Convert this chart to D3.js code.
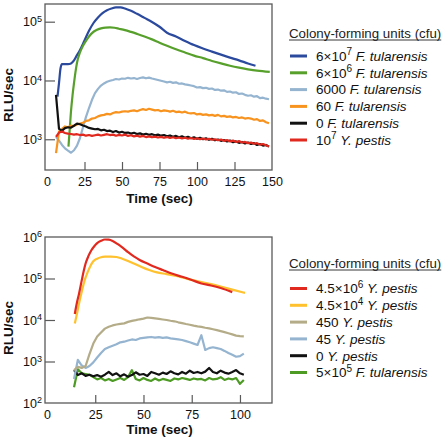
<!DOCTYPE html>
<html><head><meta charset="utf-8">
<script src="https://cdn.jsdelivr.net/npm/d3@7/dist/d3.min.js"></script>
<style>body{margin:0;background:#fff;}svg{display:block;font-family:"Liberation Sans",Arial,Helvetica,sans-serif;}</style>
</head><body>
<script>
// ---------- TOP PANEL DATA ----------
const topXTicks = [0, 25, 50, 75, 100, 125, 150];
const topYTicks = [1e3, 1e4, 1e5];
const topLegendTitle = "Colony-forming units (cfu)";
const topLabels = ["6×10^7 F. tularensis", "6×10^6 F. tularensis", "6000 F. tularensis", "60 F. tularensis", "0 F. tularensis", "10^7 Y. pestis"];
const topColors = ["#2b4a9e", "#58a02c", "#95b4d0", "#f7931e", "#111111", "#e1291f"];

const tBlue = [7, 8, 9, 10, 12, 14, 16, 18, 20, 22, 25, 28, 31, 34, 37, 40, 43, 46, 49, 52, 56, 60, 65, 70, 75, 80, 86, 92, 98, 104, 110, 116, 122, 128, 134, 139];
const vBlue = [5300, 9000, 16000, 19000, 19000, 19000, 19500, 22000, 27000, 33000, 48000, 70000, 95000, 118000, 140000, 157000, 168000, 175000, 175000, 168000, 153000, 136000, 116000, 99000, 82000, 65000, 56000, 47000, 40000, 35000, 31000, 27500, 24500, 22000, 19500, 17800];
const tGreen = [14.3, 15, 16, 17, 18, 19, 20, 22, 24, 26, 28, 30, 33, 36, 39, 42, 45, 48, 52, 56, 60, 65, 70, 75, 80, 86, 92, 98, 104, 110, 116, 122, 128, 134, 140, 148.5];
const vGreen = [750, 1300, 3000, 5500, 9000, 14000, 20000, 30000, 39000, 47000, 56000, 64000, 72000, 77000, 79500, 80000, 79000, 76000, 72000, 67000, 62000, 56000, 50000, 44000, 39000, 34000, 30000, 26500, 24000, 21500, 19500, 17800, 16500, 15500, 14700, 14000];
const tTop = [6, 8, 10, 12, 14, 16, 18, 20, 22, 24, 26, 28, 30, 32, 34, 36, 38, 40, 42, 44, 46, 48, 50, 52, 54, 56, 58, 60, 62, 64, 66, 68, 70, 72, 74, 76, 78, 80, 82, 84, 86, 88, 90, 92, 94, 96, 98, 100, 102, 104, 106, 108, 110, 112, 114, 116, 118, 120, 122, 124, 126, 128, 130, 132, 134, 136, 138, 140, 142, 144, 146, 148];
const vLb6000 = [1100, 950, 800, 700, 640, 590, 650, 780, 1050, 1600, 2400, 3400, 4700, 6100, 7200, 8200, 8900, 9500, 9900, 10200, 10600, 10400, 10800, 10700, 11100, 10800, 11000, 10600, 11000, 11300, 10900, 11200, 10800, 10500, 10200, 9900, 9600, 9300, 9500, 9100, 9300, 8800, 8900, 8600, 8400, 8200, 8000, 7600, 7700, 7400, 7500, 7200, 7300, 6900, 7000, 6700, 6800, 6400, 6500, 6200, 6300, 5900, 6000, 5700, 5500, 5600, 5300, 5400, 5000, 5100, 4900, 4800];
const vOr60 = [580, 1350, 1500, 1650, 1600, 1700, 1680, 1780, 1850, 1900, 2050, 2100, 2250, 2300, 2450, 2550, 2600, 2700, 2650, 2800, 2900, 2850, 2950, 3000, 2950, 3050, 3100, 3000, 3150, 3250, 3150, 3300, 3200, 3100, 3150, 3000, 3100, 3050, 2950, 3050, 2900, 2950, 2850, 2950, 2800, 2750, 2800, 2650, 2700, 2600, 2650, 2550, 2600, 2500, 2600, 2450, 2500, 2400, 2450, 2350, 2400, 2300, 2350, 2250, 2300, 2250, 2150, 2200, 2050, 2100, 1950, 1870];
const vBlk0 = [5700, 1500, 1400, 1550, 1600, 1580, 1700, 1850, 1800, 1720, 1650, 1560, 1520, 1480, 1500, 1420, 1450, 1380, 1400, 1330, 1380, 1300, 1340, 1280, 1300, 1250, 1290, 1230, 1260, 1200, 1240, 1190, 1220, 1170, 1200, 1150, 1180, 1120, 1160, 1100, 1140, 1080, 1120, 1060, 1100, 1040, 1080, 1020, 1060, 1000, 1040, 980, 1020, 960, 990, 940, 970, 920, 950, 890, 920, 870, 900, 850, 880, 830, 860, 800, 830, 780, 800, 750];
const vRedYp = [1100, 1300, 1350, 1280, 1250, 1230, 1200, 1220, 1180, 1200, 1150, 1180, 1140, 1170, 1200, 1160, 1190, 1220, 1180, 1200, 1150, 1190, 1160, 1200, 1140, 1170, 1120, 1150, 1110, 1140, 1090, 1120, 1080, 1110, 1070, 1100, 1060, 1090, 1050, 1080, 1040, 1070, 1030, 1060, 1020, 1050, 1010, 1040, 1000, 1030, 990, 1020, 980, 1000, 960, 990, 940, 970, 920, 950, 900, 930, 880, 900, 860, 880, 840, 860, 810, 830, 790, 750];

// ---------- BOTTOM PANEL DATA ----------
const botXTicks = [0, 25, 50, 75, 100];
const botYTicks = [1e2, 1e3, 1e4, 1e5, 1e6];
const botLegendTitle = "Colony-forming units (cfu)";
const botLabels = ["4.5×10^6 Y. pestis", "4.5×10^4 Y. pestis", "450 Y. pestis", "45 Y. pestis", "0 Y. pestis", "5×10^5 F. tularensis"];
const botColors = ["#e1291f", "#ffc12e", "#b4ac88", "#95b4d0", "#111111", "#4d9a24"];

const tRed = [14.4, 15.5, 16.6, 18, 19, 20, 21.5, 23, 24.5, 26, 28, 30, 32, 34, 36.5, 39, 42, 45, 48, 52, 56, 60, 65, 70, 75, 80, 85, 90, 96];
const vRed = [14000, 26000, 43000, 90000, 150000, 230000, 350000, 480000, 600000, 710000, 810000, 870000, 860000, 800000, 680000, 560000, 430000, 340000, 280000, 230000, 190000, 160000, 130000, 110000, 92000, 76000, 68000, 59000, 47000];
const tYel = [14.4, 15.5, 16.6, 18, 19.5, 21, 22.5, 24, 26, 28, 30, 33, 36, 39, 42, 45, 49, 53, 57, 62, 67, 72, 76, 80, 85, 90, 96, 102.6];
const vYel = [8200, 14000, 25000, 48000, 90000, 140000, 200000, 260000, 300000, 325000, 335000, 338000, 330000, 300000, 265000, 230000, 190000, 160000, 140000, 128000, 115000, 100000, 90000, 82000, 73000, 64000, 54000, 45000];
const tBot = [14, 16, 18, 20, 22, 24, 26, 28, 30, 32, 34, 36, 38, 40, 42, 44, 46, 48, 50, 52, 54, 56, 58, 60, 62, 64, 66, 68, 70, 72, 74, 76, 78, 80, 82, 84, 86, 88, 90, 92, 94, 96, 98, 100, 102];
const vKh450 = [620, 740, 700, 780, 1500, 2700, 4000, 5000, 6200, 6900, 7400, 7800, 8100, 8300, 9000, 9500, 9900, 10400, 10800, 11500, 11200, 10900, 10600, 10300, 10000, 9600, 9300, 8800, 8400, 8000, 7700, 7300, 7000, 6800, 6500, 6300, 6000, 5700, 5400, 5100, 4800, 4500, 4200, 4100, 4050];
const vLb45 = [380, 1100, 800, 700, 780, 950, 1250, 1600, 2000, 2200, 2400, 2600, 2900, 3000, 3200, 3400, 3300, 3600, 3700, 3800, 3900, 3750, 3850, 3700, 3800, 3600, 3500, 3400, 3300, 3100, 2900, 2700, 2500, 4300, 1900, 2100, 2200, 2100, 2000, 1800, 1600, 1450, 1300, 1350, 1550];
const vBlk0b = [620, 470, 520, 450, 480, 440, 470, 430, 480, 560, 470, 520, 440, 490, 430, 470, 550, 480, 500, 450, 560, 520, 480, 540, 500, 580, 520, 490, 560, 510, 600, 530, 560, 520, 570, 700, 560, 520, 600, 540, 510, 560, 620, 520, 480];
const vGrn5e5 = [240, 650, 520, 500, 480, 420, 370, 400, 350, 380, 340, 370, 400, 360, 420, 620, 380, 350, 400, 360, 340, 390, 350, 380, 360, 340, 390, 370, 400, 380, 360, 390, 370, 380, 350, 400, 370, 380, 420, 360, 390, 370, 400, 290, 360];

// ---------- BUILD ----------
const svg = d3.select("body").append("svg").attr("width", 443).attr("height", 440);

function zipS(t, v) { return t.map((d, i) => [d, v[i]]); }

const panels = [
  {
    box: {l: 45, t: 4, r: 272, b: 170},
    xDomain: [0, 150], xRange0: 47, xTicks: topXTicks,
    yDomain: [300, 200000], yTicks: topYTicks,
    xTitleY: 203, yTitleX: 13,
    series: [
      {d: zipS(tBlue, vBlue), c: topColors[0], smooth: true},
      {d: zipS(tGreen, vGreen), c: topColors[1], smooth: true},
      {d: zipS(tTop, vLb6000), c: topColors[2]},
      {d: zipS(tTop, vOr60), c: topColors[3]},
      {d: zipS(tTop, vBlk0), c: topColors[4]},
      {d: zipS(tTop, vRedYp), c: topColors[5]}
    ],
    legend: {title: topLegendTitle, labels: topLabels, colors: topColors, titleY: 38, y0: 56, dy: 16.8}
  },
  {
    box: {l: 45, t: 237, r: 272, b: 403},
    xDomain: [0, 116.6], xRange0: 47, xTicks: botXTicks,
    yDomain: [100, 1e6], yTicks: botYTicks,
    xTitleY: 434, yTitleX: 13,
    series: [
      {d: zipS(tBot, vGrn5e5), c: botColors[5]},
      {d: zipS(tBot, vBlk0b), c: botColors[4]},
      {d: zipS(tBot, vLb45), c: botColors[3]},
      {d: zipS(tBot, vKh450), c: botColors[2]},
      {d: zipS(tYel, vYel), c: botColors[1], smooth: true},
      {d: zipS(tRed, vRed), c: botColors[0], smooth: true}
    ],
    legend: {title: botLegendTitle, labels: botLabels, colors: botColors, titleY: 268, y0: 288.5, dy: 16.8}
  }
];

const frameColor = "#5a5a5a";

function addLabel(sel, label) {
  const sp = label.indexOf(" ");
  const num = label.slice(0, sp), species = label.slice(sp + 1);
  const parts = num.split("^");
  sel.append("tspan").text(parts[0]);
  if (parts.length > 1) {
    sel.append("tspan").attr("dy", -5.5).attr("font-size", 10).text(parts[1]);
    sel.append("tspan").attr("dy", 5.5).text(" ");
  } else {
    sel.append("tspan").text(" ");
  }
  sel.append("tspan").attr("font-style", "italic").text(species);
}

panels.forEach((p, pi) => {
  const b = p.box;
  const x = d3.scaleLinear().domain(p.xDomain).range([p.xRange0, b.r]);
  const y = d3.scaleLog().domain(p.yDomain).range([b.b, b.t]);
  const g = svg.append("g");

  const clipId = "clip" + pi;
  svg.append("clipPath").attr("id", clipId).append("rect")
    .attr("x", b.l + 1).attr("y", b.t + 1).attr("width", b.r - b.l - 2).attr("height", b.b - b.t - 2);

  const lg = g.append("g").attr("clip-path", `url(#${clipId})`);
  p.series.forEach(s => {
    const line = d3.line().x(d => x(d[0])).y(d => y(d[1]))
      .curve(s.smooth ? d3.curveMonotoneX : d3.curveLinear);
    lg.append("path").attr("d", line(s.d)).attr("fill", "none")
      .attr("stroke", s.c).attr("stroke-width", 2.2).attr("stroke-linejoin", "round");
  });

  const xa = g.append("g").attr("transform", `translate(0,${b.b})`)
    .call(d3.axisBottom(x).tickValues(p.xTicks).tickSize(-8).tickPadding(7).tickFormat(d3.format("d")));
  xa.select(".domain").remove();
  xa.selectAll(".tick line").attr("stroke", frameColor).attr("stroke-width", 1.2)
    .filter(d => d === 0 || d >= p.xDomain[1] - 1).remove();
  xa.selectAll(".tick text").attr("font-size", 12.5).attr("fill", "#111")
    .attr("font-family", "Liberation Sans, Arial, sans-serif");

  const ya = g.append("g").attr("transform", `translate(${b.l},0)`)
    .call(d3.axisLeft(y).tickValues(p.yTicks).tickSize(-10).tickPadding(3).tickFormat(() => ""));
  ya.select(".domain").remove();
  ya.selectAll(".tick line").attr("stroke", frameColor).attr("stroke-width", 1.2)
    .filter(d => Math.abs(y(d) - b.t) < 2 || Math.abs(y(d) - b.b) < 2).remove();
  ya.selectAll(".tick text").attr("font-size", 12.5).attr("fill", "#111")
    .attr("font-family", "Liberation Sans, Arial, sans-serif")
    .each(function(d) {
      const t = d3.select(this);
      t.text(null);
      t.append("tspan").text("10");
      t.append("tspan").attr("dy", "-0.45em").attr("font-size", 9).text(String(Math.round(Math.log10(d))));
    });

  g.append("rect").attr("x", b.l).attr("y", b.t).attr("width", b.r - b.l).attr("height", b.b - b.t)
    .attr("fill", "none").attr("stroke", frameColor).attr("stroke-width", 1.3);

  g.append("text").attr("x", (b.l + b.r) / 2 + 1).attr("y", p.xTitleY).attr("text-anchor", "middle")
    .attr("font-size", 13.5).attr("font-weight", "bold").attr("fill", "#111").text("Time (sec)");
  g.append("text").attr("transform", `translate(${p.yTitleX},${(b.t + b.b) / 2 + 8}) rotate(-90)`)
    .attr("text-anchor", "middle").attr("font-size", 13.5).attr("font-weight", "bold").attr("fill", "#111").text("RLU/sec");

  const L = p.legend;
  const tt = g.append("text").attr("x", 289).attr("y", L.titleY).attr("font-size", 13.3).attr("fill", "#222").text(L.title);
  const w = tt.node().getComputedTextLength();
  g.append("line").attr("x1", 289).attr("x2", 289 + w).attr("y1", L.titleY + 2).attr("y2", L.titleY + 2)
    .attr("stroke", "#222").attr("stroke-width", 0.9);
  L.labels.forEach((lab, i) => {
    const cy = L.y0 + i * L.dy;
    g.append("line").attr("x1", 290).attr("x2", 307).attr("y1", cy).attr("y2", cy)
      .attr("stroke", L.colors[i]).attr("stroke-width", 3);
    const t = g.append("text").attr("x", 316).attr("y", cy + 4.8).attr("font-size", 13.5).attr("fill", "#111");
    addLabel(t, lab);
  });
});
</script>
</body></html>
